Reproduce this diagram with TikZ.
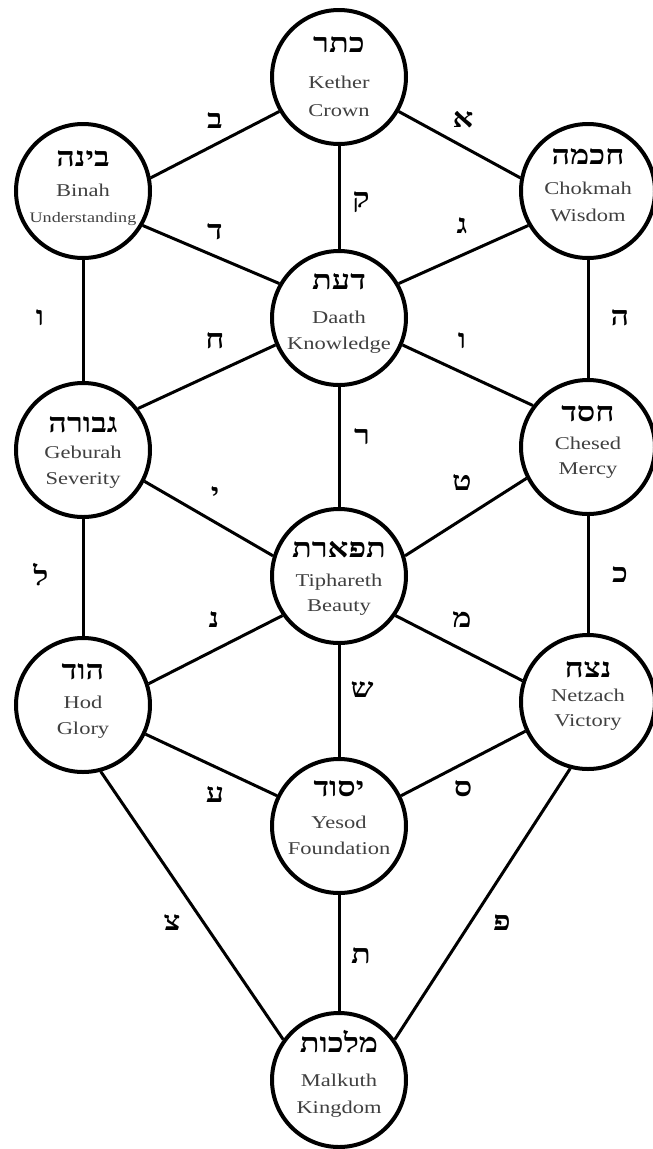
\documentclass[tikz,border=0pt]{standalone}
\usepackage{fontspec}
\setmainfont{Liberation Serif}[FakeStretch=1.25]
\newfontfamily\hebf[Script=Hebrew,FakeStretch=1.2]{Liberation Serif}
\TeXXeTstate=1
\tikzset{
  sef/.style={circle, draw=black, line width=4pt, minimum size=134pt, inner sep=0pt, fill=white},
  conn/.style={line width=3pt, draw=black},
  heb/.style={font=\hebf\bfseries\fontsize{27}{27}\selectfont, inner sep=0pt, anchor=base},
  eng/.style={font=\fontsize{18}{18}\selectfont, text=black!75, inner sep=0pt, anchor=base},
  plet/.style={font=\hebf\bfseries\fontsize{27}{27}\selectfont, inner sep=0pt},
}
\newcommand\sefira[9]{%
  \node[sef] (#1) at (#2,#3) {};
  \node[heb] (#1-h) at (#2,#7) {\beginR #4\endR};
  \node[eng] (#1-a) at (#2,#8) {#5};
  \node[eng] (#1-b) at (#2,#9) {#6};
}
\begin{document}
\begin{tikzpicture}[x=1pt,y=-1pt]
\fill[white] (0,0) rectangle (653,1149);
\useasboundingbox (0,0) rectangle (653,1149);
\sefira{kether}{339}{77}{כתר}{Kether}{Crown}{52}{88}{116}
\sefira{binah}{83}{191}{בינה}{Binah}{{\fontsize{14.5}{14.5}\selectfont Understanding}}{166}{196}{222}
\sefira{chokmah}{588}{191}{חכמה}{Chokmah}{Wisdom}{164}{194}{221}
\sefira{daath}{339}{318}{דעת}{Daath}{Knowledge}{289}{323}{349}
\sefira{geburah}{83}{450}{גבורה}{Geburah}{Severity}{432}{458}{484}
\sefira{chesed}{588}{447}{חסד}{Chesed}{Mercy}{421}{449}{474}
\sefira{tiph}{339}{576}{תפארת}{Tiphareth}{Beauty}{557}{586}{611}
\sefira{hod}{83}{705}{הוד}{Hod}{Glory}{679}{708}{734}
\sefira{netzach}{588}{702}{נצח}{Netzach}{Victory}{677}{701}{726}
\sefira{yesod}{339}{826}{יסוד}{Yesod}{Foundation}{796}{828}{854}
\sefira{malkuth}{339}{1080}{מלכות}{Malkuth}{Kingdom}{1052}{1086}{1113}

\draw[conn] (kether.210) -- (binah.11);
\draw[conn] (kether.-30) -- (chokmah.169);
\draw[conn] (kether.-90) -- (daath.90);
\draw[conn] (binah.-30) -- (daath.150);
\draw[conn] (chokmah.210) -- (daath.30);
\draw[conn] (binah.-90) -- (geburah.90);
\draw[conn] (chokmah.-90) -- (chesed.90);
\draw[conn] (daath.203) -- (geburah.37);
\draw[conn] (daath.-23) -- (chesed.143);
\draw[conn] (daath.-90) -- (tiph.90);
\draw[conn] (geburah.-27) -- (tiph.163);
\draw[conn] (chesed.207) -- (tiph.17);
\draw[conn] (geburah.-90) -- (hod.90);
\draw[conn] (chesed.-90) -- (netzach.90);
\draw[conn] (tiph.215) -- (hod.18);
\draw[conn] (tiph.-35) -- (netzach.162);
\draw[conn] (tiph.-90) -- (yesod.90);
\draw[conn] (hod.-25) -- (yesod.154);
\draw[conn] (netzach.205) -- (yesod.26);
\draw[conn] (hod.-75) -- (malkuth.144);
\draw[conn] (yesod.-90) -- (malkuth.90);
\draw[conn] (netzach.255) -- (malkuth.36);

\node[plet] (l1) at (215,121) {ב};
\node[plet] (l2) at (463,120) {א};
\node[plet] (l3) at (361,202) {ק};
\node[plet] (l4) at (215,232) {ד};
\node[plet] (l5) at (462,226) {ג};
\node[plet] (l6) at (40,318) {ו};
\node[plet] (l7) at (620,318) {ה};
\node[plet] (l8) at (215,341) {ח};
\node[plet] (l9) at (462,341) {ו};
\node[plet] (l10) at (362,437) {ר};
\node[plet] (l11) at (215,495) {י};
\node[plet] (l12) at (462,483) {ט};
\node[plet] (l13) at (41,575) {ל};
\node[plet] (l14) at (620,575) {כ};
\node[plet] (l15) at (214,620) {נ};
\node[plet] (l16) at (462,620) {מ};
\node[plet] (l17) at (362,690) {ש};
\node[plet] (l18) at (215,795) {ע};
\node[plet] (l19) at (463,789) {ס};
\node[plet] (l20) at (172,923) {צ};
\node[plet] (l21) at (361,956) {ת};
\node[plet] (l22) at (502,923) {פ};
\end{tikzpicture}
\end{document}
